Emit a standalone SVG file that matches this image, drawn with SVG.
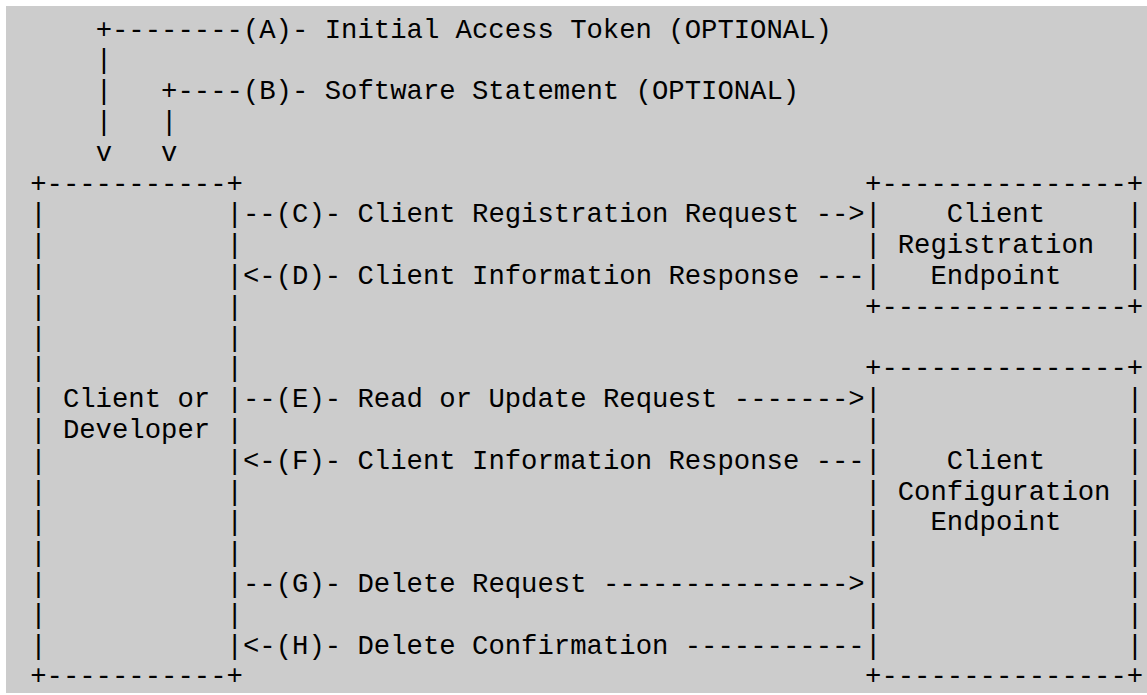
<svg xmlns="http://www.w3.org/2000/svg" width="1147" height="695" viewBox="0 0 1147 695" xml:space="preserve">
<style>
text { font-family: "Liberation Mono", "DejaVu Sans Mono", monospace; font-size: 27.28px; fill: #000; white-space: pre; }
</style>
<rect x="0" y="0" width="1147" height="695" fill="#ffffff"/>
<rect x="6" y="6" width="1141" height="687" fill="#cccccc"/>
<g id="connectors">
<text x="95.65" y="37.5">+--------(A)- Initial Access Token (OPTIONAL)</text>
<text x="95.65" y="68.3">|</text>
<text x="95.65" y="99.1">|   +----(B)- Software Statement (OPTIONAL)</text>
<text x="95.65" y="129.9">|   |</text>
<text x="95.65" y="160.7">v   v</text>
<text x="242.98" y="222.3">--(C)- Client Registration Request --></text>
<text x="242.98" y="283.9">&lt;-(D)- Client Information Response ---</text>
<text x="242.98" y="407.1">--(E)- Read or Update Request -------></text>
<text x="242.98" y="468.7">&lt;-(F)- Client Information Response ---</text>
<text x="242.98" y="591.9">--(G)- Delete Request ---------------></text>
<text x="242.98" y="653.5">&lt;-(H)- Delete Confirmation -----------</text>
</g>
<g id="client">
<text x="30.17" y="191.5">+-----------+</text>
<text x="30.17" y="222.3">|           |</text>
<text x="30.17" y="253.1">|           |</text>
<text x="30.17" y="283.9">|           |</text>
<text x="30.17" y="314.7">|           |</text>
<text x="30.17" y="345.5">|           |</text>
<text x="30.17" y="376.3">|           |</text>
<text x="30.17" y="407.1">| Client or |</text>
<text x="30.17" y="437.9">| Developer |</text>
<text x="30.17" y="468.7">|           |</text>
<text x="30.17" y="499.5">|           |</text>
<text x="30.17" y="530.3">|           |</text>
<text x="30.17" y="561.1">|           |</text>
<text x="30.17" y="591.9">|           |</text>
<text x="30.17" y="622.7">|           |</text>
<text x="30.17" y="653.5">|           |</text>
<text x="30.17" y="684.3">+-----------+</text>
</g>
<g id="registration-endpoint">
<text x="865.04" y="191.5">+---------------+</text>
<text x="865.04" y="222.3">|    Client     |</text>
<text x="865.04" y="253.1">| Registration  |</text>
<text x="865.04" y="283.9">|   Endpoint    |</text>
<text x="865.04" y="314.7">+---------------+</text>
</g>
<g id="configuration-endpoint">
<text x="865.04" y="376.3">+---------------+</text>
<text x="865.04" y="407.1">|               |</text>
<text x="865.04" y="437.9">|               |</text>
<text x="865.04" y="468.7">|    Client     |</text>
<text x="865.04" y="499.5">| Configuration |</text>
<text x="865.04" y="530.3">|   Endpoint    |</text>
<text x="865.04" y="561.1">|               |</text>
<text x="865.04" y="591.9">|               |</text>
<text x="865.04" y="622.7">|               |</text>
<text x="865.04" y="653.5">|               |</text>
<text x="865.04" y="684.3">+---------------+</text>
</g>
</svg>
